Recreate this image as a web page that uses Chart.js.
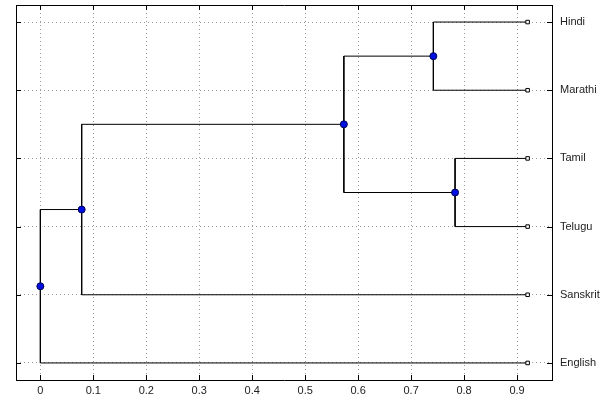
<!DOCTYPE html>
<html>
<head>
<meta charset="utf-8">
<script src="https://cdn.jsdelivr.net/npm/chart.js@4.4.1/dist/chart.umd.min.js"></script>
<style>
  html, body { margin: 0; padding: 0; background: #fff; }
  #wrap { width: 605px; height: 399px; }
</style>
</head>
<body>
<div id="wrap"><canvas id="dendro"></canvas></div>
<script>
// Leaves bottom-to-top (y = 1..6), merge table in linkage style:
// clusters 0..5 are leaves, merge i creates cluster 6 + i.
const leaves = ['English', 'Sanskrit', 'Telugu', 'Tamil', 'Marathi', 'Hindi'];
const leafLevel = 0.92;
const mergeLeft = [5, 3, 6, 8, 9];
const mergeRight = [4, 2, 7, 1, 0];
const mergeLevel = [0.742, 0.783, 0.573, 0.078, 0.0];
const xTicks = [0, 0.1, 0.2, 0.3, 0.4, 0.5, 0.6, 0.7, 0.8, 0.9];

// positions of every cluster (leaves first, then merges)
const pos = leaves.map((_, i) => ({ x: leafLevel, y: i + 1 }));
const links = [];
mergeLevel.forEach((h, i) => {
    const a = pos[mergeLeft[i]], b = pos[mergeRight[i]];
    links.push([{ x: a.x, y: a.y }, { x: h, y: a.y }, { x: h, y: b.y }, { x: b.x, y: b.y }]);
    pos.push({ x: h, y: (a.y + b.y) / 2 });
});

const datasets = links.map((pts) => ({
    type: 'line',
    data: pts,
    borderColor: '#000',
    borderWidth: 1,
    pointRadius: 0,
    fill: false,
    tension: 0,
    order: 3,
}));
datasets.push({
    type: 'scatter',
    data: pos.slice(0, leaves.length),
    pointStyle: 'rect',
    pointRadius: 2.5,
    backgroundColor: '#fff',
    borderColor: '#000',
    borderWidth: 1,
    order: 1,
});
datasets.push({
    type: 'scatter',
    data: pos.slice(leaves.length),
    pointRadius: 3.5,
    backgroundColor: '#0010e0',
    borderColor: '#000050',
    borderWidth: 1,
    order: 0,
});

// inward tick marks on all four sides, like the original plot
const inwardTicks = {
    id: 'inwardTicks',
    afterDraw(chart) {
        const { ctx, chartArea: a, scales } = chart;
        const len = 5;
        ctx.save();
        ctx.strokeStyle = '#000';
        ctx.lineWidth = 1;
        ctx.beginPath();
        xTicks.forEach((v) => {
            const px = Math.round(scales.x.getPixelForValue(v)) + 0.5;
            ctx.moveTo(px, a.bottom); ctx.lineTo(px, a.bottom - len);
            ctx.moveTo(px, a.top); ctx.lineTo(px, a.top + len);
        });
        leaves.forEach((_, i) => {
            const py = Math.round(scales.y.getPixelForValue(i + 1)) + 0.5;
            ctx.moveTo(a.left, py); ctx.lineTo(a.left + len, py);
            ctx.moveTo(a.right, py); ctx.lineTo(a.right - len, py);
        });
        ctx.stroke();
        ctx.restore();
    },
};

const font = { family: '"Liberation Sans", Arial, sans-serif', size: 11 };
const gridDots = { color: '#9a9a9a', lineWidth: 1, drawTicks: false };

new Chart(document.getElementById('dendro'), {
    type: 'scatter',
    data: { datasets },
    options: {
        responsive: true,
        maintainAspectRatio: false,
        animation: false,
        layout: { padding: { left: 16, top: 5, right: 0, bottom: 0 } },
        plugins: { legend: { display: false }, tooltip: { enabled: false } },
        scales: {
            x: {
                type: 'linear',
                position: 'bottom',
                min: -0.046,
                max: 0.966,
                afterBuildTicks: (s) => { s.ticks = xTicks.map((v) => ({ value: v })); },
                afterFit: (s) => { s.height = 19; s.paddingLeft = 0; s.paddingRight = 0; },
                ticks: { color: '#222', font, padding: 4, callback: (v) => String(Math.round(v * 10) / 10) },
                grid: gridDots,
                border: { display: true, color: '#000', width: 1, dash: [1, 3] },
            },
            x2: {
                type: 'linear',
                position: 'top',
                min: -0.046,
                max: 0.966,
                afterFit: (s) => { s.height = 0; s.paddingLeft = 0; s.paddingRight = 0; },
                ticks: { display: false },
                grid: { display: false, drawTicks: false },
                border: { display: true, color: '#000', width: 1 },
            },
            y: {
                type: 'linear',
                position: 'right',
                min: 0.75,
                max: 6.25,
                afterBuildTicks: (s) => { s.ticks = leaves.map((_, i) => ({ value: i + 1 })); },
                afterFit: (s) => { s.width = 53; s.paddingTop = 0; s.paddingBottom = 0; },
                ticks: { color: '#222', font, padding: 8, callback: (v) => leaves[Math.round(v) - 1] || '' },
                grid: gridDots,
                border: { display: true, color: '#000', width: 1, dash: [1, 3] },
            },
            y2: {
                type: 'linear',
                position: 'left',
                min: 0.75,
                max: 6.25,
                afterFit: (s) => { s.width = 0; s.paddingTop = 0; s.paddingBottom = 0; },
                ticks: { display: false },
                grid: { display: false, drawTicks: false },
                border: { display: true, color: '#000', width: 1 },
            },
        },
    },
    plugins: [inwardTicks],
});
</script>
</body>
</html>
